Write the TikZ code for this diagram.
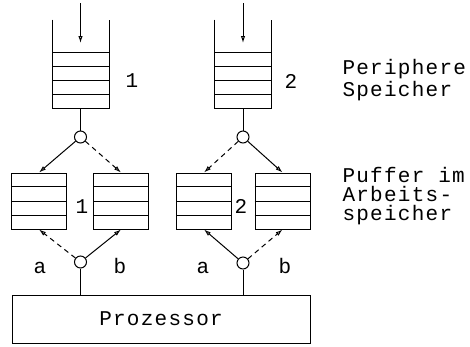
\documentclass[tikz,border=0pt]{standalone}
\usepackage{fontspec}
\newfontfamily\typewriter[LetterSpace=6]{Liberation Mono}
\usetikzlibrary{arrows.meta,calc}

\begin{document}
\begin{tikzpicture}[
  x=1pt, y=-1pt,
  every node/.style={font=\typewriter\fontsize{21}{19}\selectfont, inner sep=0pt},
  >={Latex[open,length=7pt,width=4.5pt]},
  line width=1pt,
  stack/.style={minimum width=56pt, minimum height=88pt},
  buffer/.style={draw, minimum width=55pt, minimum height=56pt},
  switch/.style={draw, circle, minimum size=12pt},
  flow/.style={->},
  dflow/.style={->, dash pattern=on 5pt off 4pt}
]
\useasboundingbox (0,0) rectangle (470,346);

% Peripheral stores (open at the top)
\node[stack] (perL) at (80.5,64) {};
\node[stack] (perR) at (243,64) {};
\foreach \s in {perL,perR} {
  \draw (\s.north west) -- (\s.south west) -- (\s.south east) -- (\s.north east);
  \foreach \k in {1,...,4}
    \draw ([yshift=\k*14pt]\s.south west) -- ([yshift=\k*14pt]\s.south east);
}

% Incoming data
\coordinate (inL) at (80.5,3);
\coordinate (inLend) at (80.5,43);
\coordinate (inR) at (243,3);
\coordinate (inRend) at (243,43);
\draw[flow] (inL) -- (inLend);
\draw[flow] (inR) -- (inRend);

% Switches
\node[switch] (upL) at (80.5,137) {};
\node[switch] (upR) at (243,137) {};
\node[switch] (dnL) at (80.5,262) {};
\node[switch] (dnR) at (243,263) {};
\draw (perL.south) -- (upL);
\draw (perR.south) -- (upR);

% Buffers in main memory
\node[buffer] (bufLa) at (39,201) {};
\node[buffer] (bufLb) at (121,201) {};
\node[buffer] (bufRa) at (204,201) {};
\node[buffer] (bufRb) at (282.5,201) {};
\foreach \b in {bufLa,bufLb,bufRa,bufRb}
  \foreach \k in {1,2,3}
    \draw ($(\b.north west)!\k/4!(\b.south west)$) -- ($(\b.north east)!\k/4!(\b.south east)$);

\draw[flow]  (upL) -- (bufLa.north);
\draw[dflow] (upL) -- (bufLb.north);
\draw[dflow] (upR) -- (bufRa.north);
\draw[flow]  (upR) -- (bufRb.north);
\draw[dflow] (dnL) -- (bufLa.south);
\draw[flow]  (dnL) -- (bufLb.south);
\draw[flow]  (dnR) -- (bufRa.south);
\draw[dflow] (dnR) -- (bufRb.south);

% Processor
\node[draw, minimum width=298pt, minimum height=48pt] (proc) at (161,319) {Prozessor};
\draw (dnL) -- (dnL |- proc.north);
\draw (dnR) -- (dnR |- proc.north);

% Labels
\node[anchor=base] (numL) at (132,87) {1};
\node[anchor=base] (numR) at (291,88) {2};
\node[anchor=base] (bufNumL) at (82,213) {1};
\node[anchor=base] (bufNumR) at (241,213) {2};
\node[anchor=base] (aL) at (40,273) {a};
\node[anchor=base] (bL) at (120,273) {b};
\node[anchor=base] (aR) at (203,273) {a};
\node[anchor=base] (bR) at (285,273) {b};
\node[anchor=north west, align=left] (perText) at (342,59) {Periphere\\[1pt]Speicher};
\node[anchor=north west, align=left] (bufText) at (342,167) {Puffer im\\Arbeits-\\speicher};

\end{tikzpicture}
\end{document}
